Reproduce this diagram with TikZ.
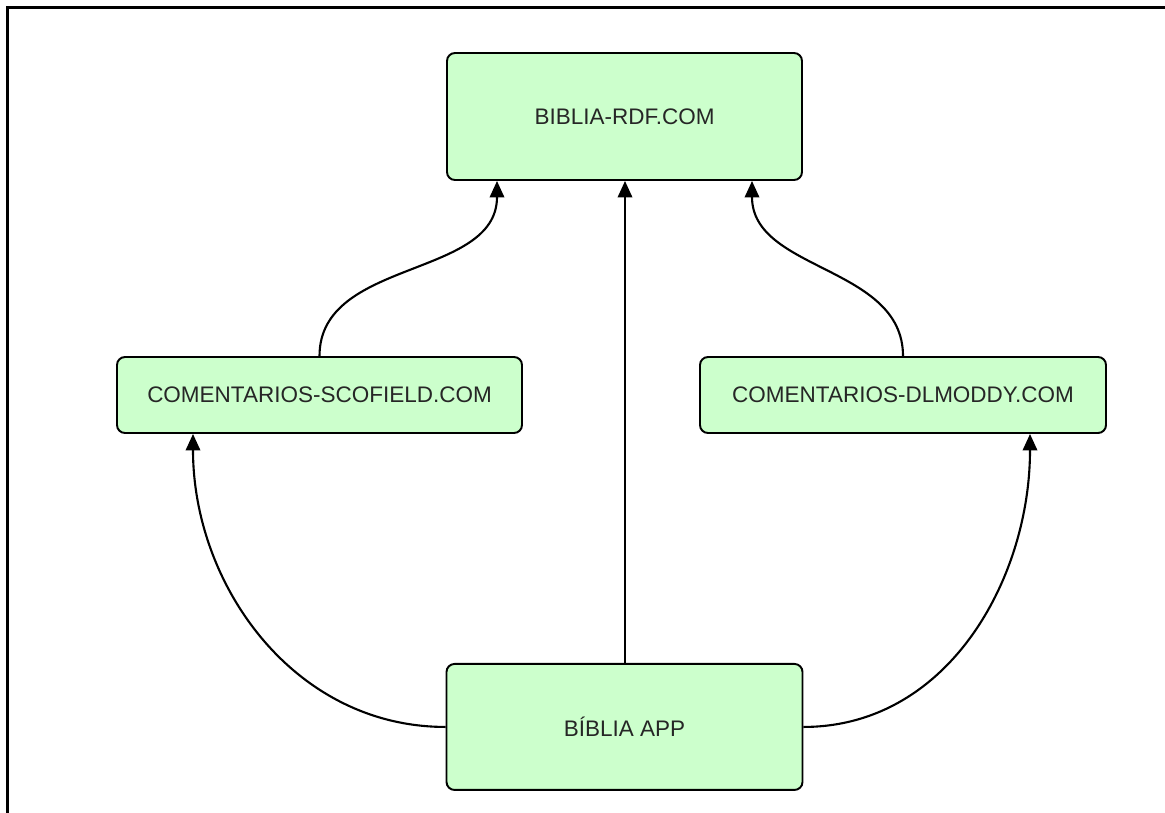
\documentclass[tikz,border=0pt]{standalone}
\usepackage{fontspec}
\setmainfont{Liberation Sans}
\usetikzlibrary{arrows.meta, positioning}
\definecolor{boxgreen}{RGB}{204,255,204}

\begin{document}
\begin{tikzpicture}[
        block/.style={rectangle, draw, fill=boxgreen, line width=1.1pt, rounded corners=0.16cm, text=black!85, font=\fontsize{12.8}{15}\selectfont},
        link/.style={line width=1.2pt, -{Triangle[length=0.33cm, width=0.29cm]}},
        node distance=1cm and 1cm
    ]

    \useasboundingbox (0,0) rectangle (23.3,-16.24);
    \draw[line width=1.6pt] (0.15,-16.3) -- (0.15,-0.15) -- (23.4,-0.15);

    \node[block, minimum width=7.1cm, minimum height=2.54cm] (rdf) at (12.49,-2.33) {BIBLIA-RDF.COM};
    \node[block, minimum width=8.1cm, minimum height=1.52cm] (scofield) at (6.39,-7.9) {COMENTARIOS-SCOFIELD.COM};
    \node[block, minimum width=8.12cm, minimum height=1.52cm] (dlmoddy) at (18.06,-7.9) {COMENTARIOS-DLMODDY.COM};
    \node[block, minimum width=7.12cm, minimum height=2.52cm, below=9.64cm of rdf] (app) {BÍBLIA APP};

    \draw[link] ([xshift=0.01cm]app.north) -- ([xshift=0.01cm]rdf.south);
    \draw[link] (scofield.north) to[out=90, in=-90] ([xshift=-2.55cm]rdf.south);
    \draw[link] (dlmoddy.north) to[out=90, in=-90] ([xshift=2.55cm]rdf.south);
    \draw[link] (app.west) to[out=180, in=-90] ([xshift=-2.53cm]scofield.south);
    \draw[link] (app.east) to[out=0, in=-90] ([xshift=2.54cm]dlmoddy.south);

\end{tikzpicture}
\end{document}
